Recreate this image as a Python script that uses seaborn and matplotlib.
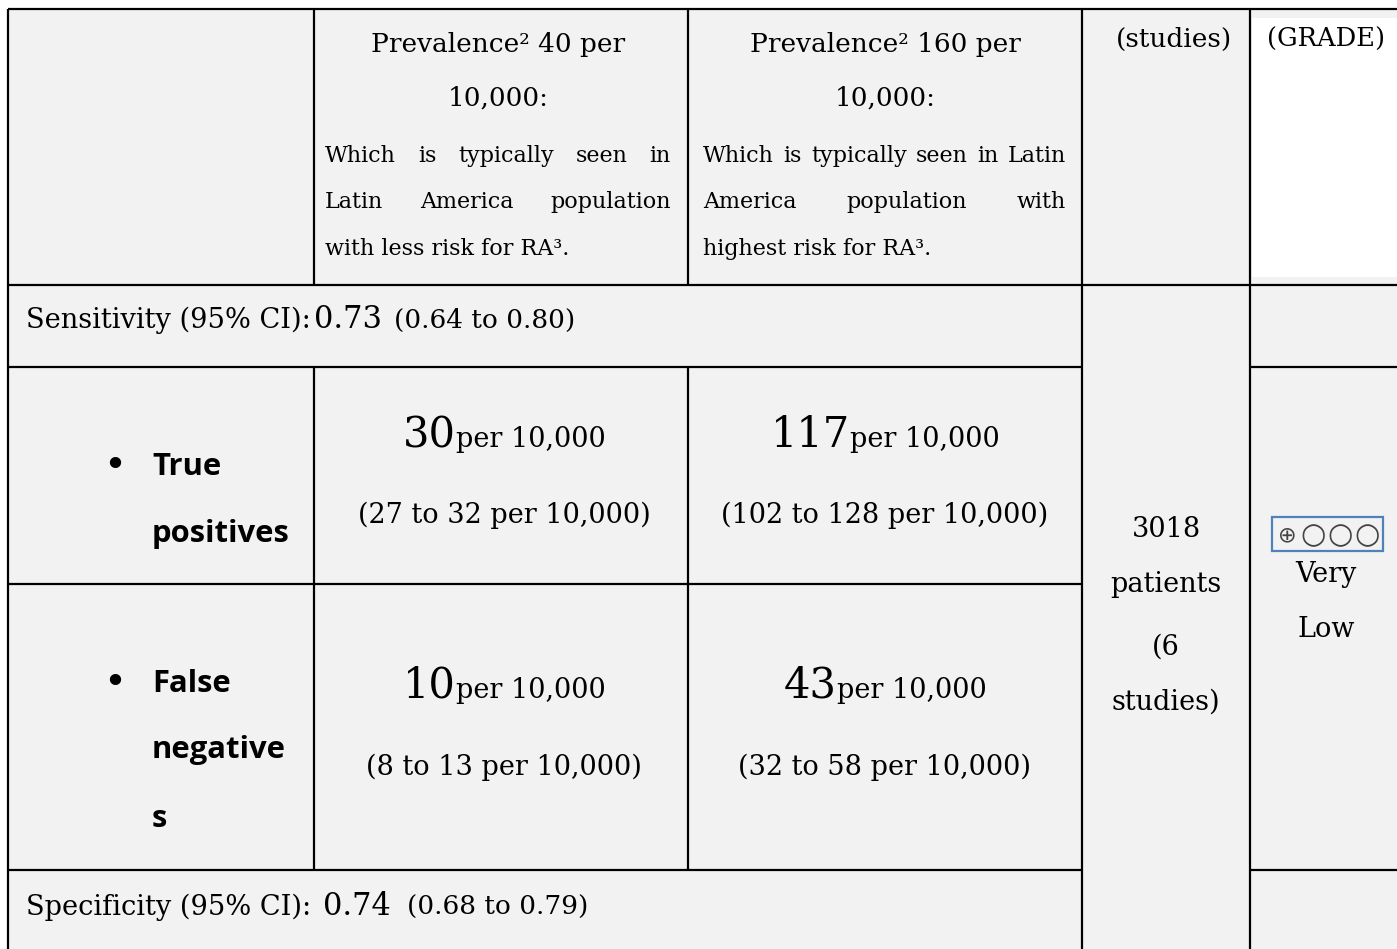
import matplotlib
matplotlib.use("Agg")
import matplotlib.pyplot as plt
from matplotlib.patches import Rectangle
import seaborn as sns

prevalence = [40, 160]
header_notes = [
    ["Which is typically seen in", "Latin America population", "with less risk for RA³."],
    ["Which is typically seen in Latin", "America population with", "highest risk for RA³."],
]
sens = [0.73, 0.64, 0.80]
spec = [0.74, 0.68, 0.79]
tp_est = [30, 117]
tp_low = [27, 102]
tp_high = [32, 128]
fn_est = [10, 43]
fn_low = [8, 32]
fn_high = [13, 58]
row_labels = [["True", "positives"], ["False", "negative", "s"]]
n_patients = 3018
n_studies = 6
certainty = ["Very", "Low"]
grade_marks = ["⊕", "○", "○", "○"]

sns.set_theme(style="white")
SERIF = "DejaVu Serif"
BOLD = "Open Sans"
BIG, HEAD, SMALL, HUGE, MID = 19.5, 19, 16, 30, 22
GRAY = "#F2F2F2"

fig = plt.figure(figsize=(13.97, 9.49), dpi=100)
ax = fig.add_axes([0, 0, 1, 1])
ax.set_xlim(0, 1397)
ax.set_ylim(949, 0)
ax.axis("off")
rend = fig.canvas.get_renderer()

# cell backgrounds
ax.add_patch(Rectangle((8, 9), 1389, 940, fc=GRAY, ec="none"))
ax.add_patch(Rectangle((1252, 18), 145, 259, fc="white", ec="none"))

# grid lines
lw = 1.6
for y, x0, x1 in [(9, 8, 1397), (285, 8, 1397), (367, 8, 1082), (367, 1250, 1397),
                  (584, 8, 1082), (870, 8, 1082), (870, 1250, 1397)]:
    ax.hlines(y, x0, x1, color="black", lw=lw)
for x, y0, y1 in [(8, 9, 949), (314, 9, 285), (314, 367, 870), (688, 9, 285),
                  (688, 367, 870), (1082, 9, 949), (1250, 9, 949)]:
    ax.vlines(x, y0, y1, color="black", lw=lw)


def txt(x, y, s, size, ha="left", family=SERIF, **kw):
    return ax.text(x, y, s, fontsize=size, family=family, ha=ha, va="baseline",
                   color="black", **kw)


def run_line(x, y, parts, align="center"):
    # parts: (text, size, gap before)
    items = [(txt(0, y, s, size), gap) for s, size, gap in parts]
    widths = [t.get_window_extent(rend).width for t, _ in items]
    total = sum(widths) + sum(g for _, g in items)
    cur = x - total / 2 if align == "center" else x
    for (t, gap), w in zip(items, widths):
        cur += gap
        t.set_x(cur)
        cur += w


def justify(x0, x1, y, line, size):
    words = [txt(0, y, w, size) for w in line.split()]
    widths = [t.get_window_extent(rend).width for t in words]
    gap = (x1 - x0 - sum(widths)) / (len(words) - 1)
    cur = x0
    for t, w in zip(words, widths):
        t.set_x(cur)
        cur += w + gap


# header
col_center = [498, 885]
col_span = [(325, 671), (703, 1066)]
for i in range(2):
    txt(col_center[i], 52, f"Prevalence² {prevalence[i]} per", HEAD, ha="center")
    txt(col_center[i], 106, "10,000:", HEAD, ha="center")
    for j, (line, yb) in enumerate(zip(header_notes[i], [162, 208, 255])):
        if j < 2:
            justify(col_span[i][0], col_span[i][1], yb, line, SMALL)
        else:
            txt(col_span[i][0], yb, line, SMALL)
txt(1232, 47, "(studies)", HEAD, ha="right")
txt(1267, 47, "(GRADE)", 18.5)

# sensitivity / specificity rows
run_line(26, 328, [("Sensitivity (95% CI):", 19.6, 0), (f"{sens[0]:.2f}", MID, 3),
                   (f"({sens[1]:.2f} to {sens[2]:.2f})", 19, 12)], align="left")
run_line(26, 915, [("Specificity (95% CI):", 19.6, 0), (f"{spec[0]:.2f}", MID, 12),
                   (f"({spec[1]:.2f} to {spec[2]:.2f})", 19, 16)], align="left")

# true positives / false negatives
cell_center = [504, 885]
for est, low, high, (y1, y2) in [(tp_est, tp_low, tp_high, (447, 523)),
                                  (fn_est, fn_low, fn_high, (698, 775))]:
    for i in range(2):
        run_line(cell_center[i], y1, [(str(est[i]), HUGE, 0), ("per 10,000", BIG, 0)])
        txt(cell_center[i], y2, f"({low[i]} to {high[i]} per 10,000)", BIG, ha="center")

for labels, ys in zip(row_labels, [[475, 542], [692, 758, 827]]):
    ax.text(115, ys[0] - 9, "•", fontsize=28, family="DejaVu Sans", ha="center",
            va="center", color="black")
    for lab, yb in zip(labels, ys):
        txt(152, yb, lab, 22.3, family=BOLD, fontweight="bold")

# participants column
for s, yb in zip([f"{n_patients}", "patients", f"({n_studies}", "studies)"],
                 [537, 592, 655, 710]):
    txt(1166, yb, s, BIG, ha="center")

# certainty column
ax.add_patch(Rectangle((1272, 517), 111, 34, fc=GRAY, ec="#4F81BD", lw=1.6))
for m, xm in zip(grade_marks, [1287, 1313, 1340, 1367]):
    ax.text(xm, 535, m, fontsize=16 if m == "⊕" else 21, family="DejaVu Sans",
            ha="center", va="center", color="#444444")
for s, yb in zip(certainty, [582, 637]):
    txt(1326, yb, s, BIG, ha="center")

fig.savefig("out.png", dpi=100, facecolor="white")
